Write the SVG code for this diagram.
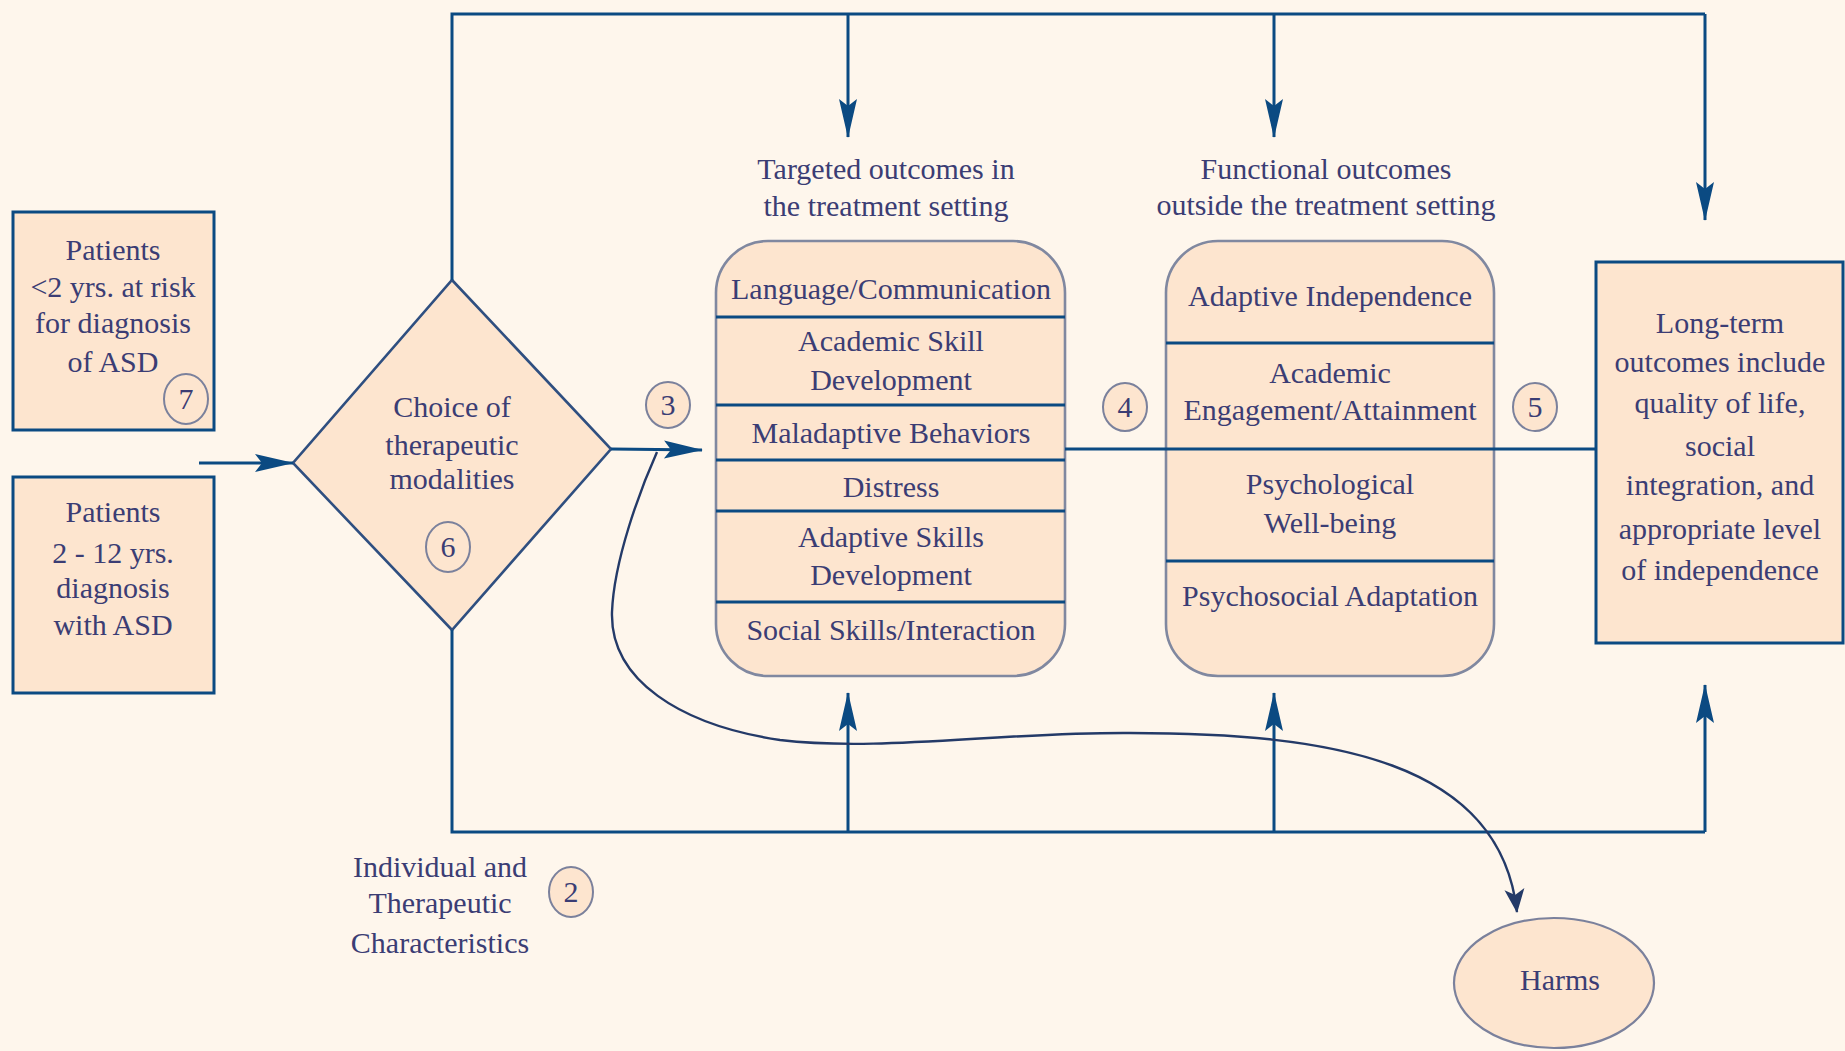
<svg xmlns="http://www.w3.org/2000/svg" width="1845" height="1051" viewBox="0 0 1845 1051">
<defs>
<style>
text{font-family:"Liberation Serif","Times New Roman",serif;font-size:30px;fill:#3b3d74;text-anchor:middle}
.box{fill:#fde5cf;stroke:#0b4a82;stroke-width:3}
.rbox{fill:#fde5cf;stroke:#8088a0;stroke-width:2.6}
.div{stroke:#0b4a82;stroke-width:3.2;fill:none}
.num{fill:#fde5cf;stroke:#7b819c;stroke-width:2}
.ln{stroke:#0b4a82;stroke-width:3;fill:none}
.curve{stroke:#243a68;stroke-width:2.4;fill:none}
</style>
<marker id="ah" markerUnits="userSpaceOnUse" viewBox="-40 -10 41 20" refX="0" refY="0" markerWidth="41" markerHeight="20" orient="auto" overflow="visible">
<path d="M1,0 L-38,-9 L-31,0 L-38,9 Z" fill="#0b4a82"/>
</marker>
<marker id="ah2" markerUnits="userSpaceOnUse" viewBox="-24 -12 25 24" refX="0" refY="0" markerWidth="25" markerHeight="24" orient="auto" overflow="visible">
<path d="M1,0 L-23,-10 L-17,0 L-23,10 Z" fill="#243a68"/>
</marker>
</defs>
<rect x="0" y="0" width="1845" height="1051" fill="#fef6ec"/>

<g id="node-patients-under2">
<rect class="box" x="13" y="212" width="201" height="218"/>
<text x="113" y="260">Patients</text>
<text x="113" y="297">&lt;2 yrs. at risk</text>
<text x="113" y="333">for diagnosis</text>
<text x="113" y="372">of ASD</text>
<ellipse class="num" cx="186" cy="399" rx="22" ry="25"/>
<text x="186" y="409">7</text>
</g>

<g id="node-patients-2-12">
<rect class="box" x="13" y="477" width="201" height="216"/>
<text x="113" y="522">Patients</text>
<text x="113" y="563">2 - 12 yrs.</text>
<text x="113" y="598">diagnosis</text>
<text x="113" y="635">with ASD</text>
</g>

<g id="node-choice">
<polygon points="452,280 611,449 452,630 293,463" fill="#fde5cf" stroke="#2f4f80" stroke-width="2.6"/>
<text x="452" y="417">Choice of</text>
<text x="452" y="455">therapeutic</text>
<text x="452" y="489">modalities</text>
<ellipse class="num" cx="448" cy="547" rx="22" ry="25"/>
<text x="448" y="557">6</text>
</g>

<g id="node-targeted">
<text x="886" y="179">Targeted outcomes in</text>
<text x="886" y="216">the treatment setting</text>
<rect class="rbox" x="716" y="241" width="349" height="435" rx="52" ry="52"/>
<path class="div" d="M716,317H1065M716,405H1065M716,460H1065M716,511H1065M716,602H1065"/>
<text x="891" y="299">Language/Communication</text>
<text x="891" y="351">Academic Skill</text>
<text x="891" y="390">Development</text>
<text x="891" y="443">Maladaptive Behaviors</text>
<text x="891" y="497">Distress</text>
<text x="891" y="547">Adaptive Skills</text>
<text x="891" y="585">Development</text>
<text x="891" y="640">Social Skills/Interaction</text>
</g>

<g id="node-functional">
<text x="1326" y="179">Functional outcomes</text>
<text x="1326" y="215">outside the treatment setting</text>
<rect class="rbox" x="1166" y="241" width="328" height="435" rx="52" ry="52"/>
<path class="div" d="M1166,343H1494M1166,561H1494"/>
<text x="1330" y="306">Adaptive Independence</text>
<text x="1330" y="383">Academic</text>
<text x="1330" y="420">Engagement/Attainment</text>
<text x="1330" y="494">Psychological</text>
<text x="1330" y="533">Well-being</text>
<text x="1330" y="606">Psychosocial Adaptation</text>
</g>

<g id="node-longterm">
<rect class="box" x="1596" y="262" width="247" height="381"/>
<text x="1720" y="333">Long-term</text>
<text x="1720" y="372">outcomes include</text>
<text x="1720" y="413">quality of life,</text>
<text x="1720" y="456">social</text>
<text x="1720" y="495">integration, and</text>
<text x="1720" y="539">appropriate level</text>
<text x="1720" y="580">of independence</text>
</g>

<g id="node-harms">
<ellipse cx="1554" cy="983" rx="100" ry="65" fill="#fde5cf" stroke="#7b819c" stroke-width="2.2"/>
<text x="1560" y="990">Harms</text>
</g>

<g id="node-characteristics">
<text x="440" y="877">Individual and</text>
<text x="440" y="913">Therapeutic</text>
<text x="440" y="953">Characteristics</text>
<ellipse class="num" cx="571" cy="892" rx="22" ry="25"/>
<text x="571" y="902">2</text>
</g>

<g id="label-3">
<ellipse class="num" cx="668" cy="405" rx="22" ry="23"/>
<text x="668" y="415">3</text>
</g>
<g id="label-4">
<ellipse class="num" cx="1125" cy="407" rx="22" ry="24"/>
<text x="1125" y="417">4</text>
</g>
<g id="label-5">
<ellipse class="num" cx="1535" cy="407" rx="22" ry="24"/>
<text x="1535" y="417">5</text>
</g>

<g id="connectors">
<line class="ln" x1="199" y1="463" x2="293" y2="463" marker-end="url(#ah)"/>
<line class="ln" x1="611" y1="449" x2="702" y2="450" marker-end="url(#ah)"/>
<line class="ln" x1="1065" y1="449" x2="1596" y2="449"/>
<path class="ln" d="M452,280V14H1705"/>
<line class="ln" x1="848" y1="14" x2="848" y2="137" marker-end="url(#ah)"/>
<line class="ln" x1="1274" y1="14" x2="1274" y2="137" marker-end="url(#ah)"/>
<line class="ln" x1="1705" y1="14" x2="1705" y2="220" marker-end="url(#ah)"/>
<path class="ln" d="M452,630V832H1705"/>
<line class="ln" x1="848" y1="832" x2="848" y2="693" marker-end="url(#ah)"/>
<line class="ln" x1="1274" y1="832" x2="1274" y2="693" marker-end="url(#ah)"/>
<line class="ln" x1="1705" y1="832" x2="1705" y2="685" marker-end="url(#ah)"/>
<path class="curve" d="M657,452 C640,490 614,560 612,612 C610,680 680,725 780,740 C880,752 1000,732 1130,733 C1330,733 1500,760 1517,912" marker-end="url(#ah2)"/>
</g>
</svg>
